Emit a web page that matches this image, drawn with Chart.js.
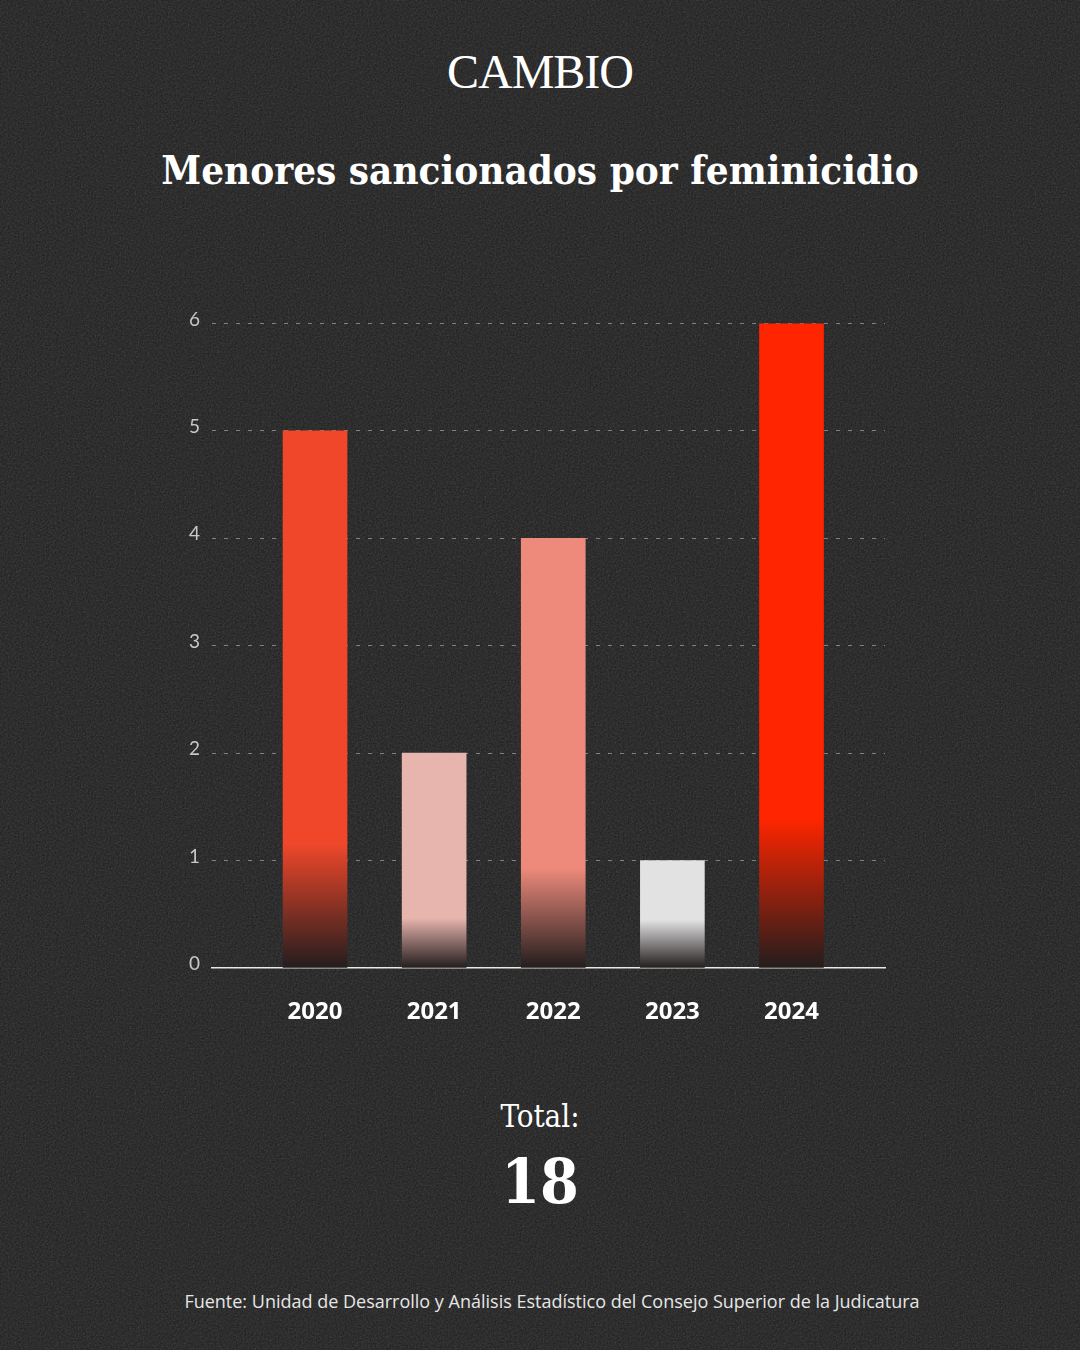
<!DOCTYPE html>
<html lang="es">
<head>
<meta charset="utf-8">
<title>Menores sancionados por feminicidio</title>
<script src="https://cdn.jsdelivr.net/npm/chart.js@4.4.1/dist/chart.umd.min.js"></script>
<style>
  html, body { margin: 0; padding: 0; }
  body {
    width: 1080px; height: 1350px; position: relative; overflow: hidden;
    background-color: #1c1c1c;
    background-image: url("data:image/svg+xml;utf8,<svg xmlns='http://www.w3.org/2000/svg' width='300' height='300'><filter id='n'><feTurbulence type='fractalNoise' baseFrequency='0.6' numOctaves='2' stitchTiles='stitch'/><feColorMatrix type='saturate' values='0'/></filter><rect width='100%' height='100%' filter='url(%23n)' opacity='0.22'/></svg>");
    color: #fff;
  }
  .logo { position: absolute; top: 44px; left: 0; width: 1080px; text-align: center;
    font: 48px "Liberation Serif", serif; letter-spacing: -1px; }
  h1 { position: absolute; top: 146px; left: 0; width: 1080px; margin: 0; text-align: center;
    font: bold 40px "DejaVu Serif", serif; font-stretch: condensed; }
  .total { position: absolute; top: 1098px; left: 0; width: 1080px; text-align: center;
    font: 31px "DejaVu Serif", serif; font-stretch: condensed; }
  .num { position: absolute; top: 1145px; left: 0; width: 1080px; text-align: center;
    font: bold 62px "DejaVu Serif", serif; font-stretch: condensed; }
  .src { position: absolute; top: 1289px; left: 12px; width: 1080px; text-align: center;
    font: 18px "Open Sans", sans-serif; color: #e6e6e6; }
  #wrap { position: absolute; left: 0; top: 300px; width: 1080px; height: 740px; }
</style>
</head>
<body>
<div class="logo">CAMBIO</div>
<h1>Menores sancionados por feminicidio</h1>
<div id="wrap"><canvas id="chart"></canvas></div>
<div class="total">Total:</div>
<div class="num">18</div>
<div class="src">Fuente: Unidad de Desarrollo y Análisis Estadístico del Consejo Superior de la Judicatura</div>
<script>
const YEARS = ['2020', '2021', '2022', '2023', '2024'];
const VALUES = [5, 2, 4, 1, 6];
const Y_TICKS = [0, 1, 2, 3, 4, 5, 6];

// bar colours and how many px above the base the fade to dark begins
const BAR_COLORS = ['#f0472b', '#e8b5ae', '#ee8a7b', '#e2e2e2', '#ff2500'];
const FADE_PX = [125, 50, 100, 48, 150];
const BASE_COLOR = '#231d1d';

function barFill(ctx) {
  const chart = ctx.chart;
  const i = ctx.dataIndex;
  const col = BAR_COLORS[i];
  if (!chart.chartArea || ctx.type !== 'data') return col;
  const y = chart.scales.y;
  const top = y.getPixelForValue(VALUES[i]);
  const base = y.getPixelForValue(0);
  const h = base - top;
  const g = chart.ctx.createLinearGradient(0, top, 0, base);
  const s = Math.max(0, Math.min(1, 1 - FADE_PX[i] / h));
  g.addColorStop(0, col);
  g.addColorStop(s, col);
  g.addColorStop(1, BASE_COLOR);
  return g;
}

new Chart(document.getElementById('chart'), {
  type: 'bar',
  data: {
    datasets: [{
      data: VALUES.map((v, i) => ({ x: i, y: v })),
      backgroundColor: barFill,
      barThickness: 64,
      borderWidth: 0
    }]
  },
  options: {
    responsive: true,
    maintainAspectRatio: false,
    animation: false,
    layout: { padding: { top: 22, right: 195, left: 0, bottom: 0 } },
    plugins: { legend: { display: false }, tooltip: { enabled: false } },
    scales: {
      x: {
        type: 'linear',
        offset: false,
        min: -0.865,
        max: 4.785,
        afterFit: s => { s.height = 72; },
        grid: { display: false, drawTicks: false },
        border: { display: true, color: '#e8e8e8', width: 1.5 },
        ticks: {
          stepSize: 1,
          autoSkip: false,
          includeBounds: false,
          padding: 30,
          color: '#ffffff',
          font: { family: '"Open Sans", sans-serif', size: 24, weight: 'bold' },
          callback: v => (Number.isInteger(v) && YEARS[v]) ? YEARS[v] : ''
        }
      },
      y: {
        min: 0,
        max: 6,
        afterFit: s => { s.width = 212; },
        afterBuildTicks: s => { s.ticks = Y_TICKS.map(v => ({ value: v })); },
        grid: {
          drawTicks: false,
          color: c => c.tick && c.tick.value === 0 ? 'rgba(0,0,0,0)' : 'rgba(230,230,230,0.45)',
          lineWidth: 1
        },
        border: { display: false, dash: [4, 8] },
        ticks: {
          padding: 12,
          labelOffset: -4,
          color: '#c8c8c8',
          font: { family: 'Lato, sans-serif', size: 19 }
        }
      }
    }
  }
});
</script>
</body>
</html>
